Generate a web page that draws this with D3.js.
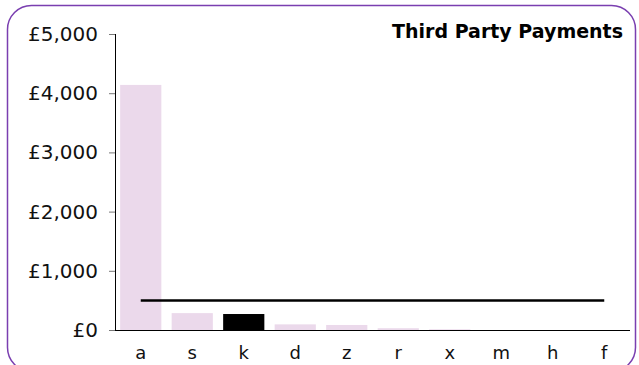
<!DOCTYPE html>
<html>
<head>
<meta charset="utf-8">
<script src="https://cdn.jsdelivr.net/npm/d3@7"></script>
<style>
  body { margin: 0; background: #fff; }
  text { font-family: "DejaVu Sans", Verdana, sans-serif; }
</style>
</head>
<body>
<script>
// data
const categories = ["a", "s", "k", "d", "z", "r", "x", "m", "h", "f"];
const payments = [4140, 285, 270, 95, 85, 30, 12, 0, 0, 0];
const average = 500;
const highlight = "k";
const yTicks = [0, 1000, 2000, 3000, 4000, 5000];

const width = 639, height = 365;
const margin = {top: 34, right: 9, bottom: 35, left: 115};

const svg = d3.select("body")
              .append("svg")
              .attr("width", width)
              .attr("height", height);

// rounded purple frame
svg.append("rect")
   .attr("x", 7.5)
   .attr("y", 5.5)
   .attr("width", 628)
   .attr("height", 366)
   .attr("rx", 24)
   .attr("fill", "none")
   .attr("stroke", "#7a3fb0")
   .attr("stroke-width", 1.5);

const g = svg.append("g")
             .attr("transform", `translate(${margin.left},${margin.top})`);

const w = width - margin.left - margin.right;
const h = height - margin.top - margin.bottom;

const x = d3.scaleBand()
            .domain(categories)
            .range([0, w])
            .paddingInner(0.2)
            .paddingOuter(0.1);

const y = d3.scaleLinear()
            .domain([0, 5000])
            .range([h, 0]);

// bars
g.selectAll("rect.bar")
 .data(categories)
 .enter()
 .append("rect")
 .attr("class", "bar")
 .attr("x", d => x(d))
 .attr("width", x.bandwidth())
 .attr("y", (d, i) => y(payments[i]))
 .attr("height", (d, i) => h - y(payments[i]))
 .attr("fill", d => d === highlight ? "#000" : "#ebd9eb");

// y axis
const yAxis = g.append("g")
               .call(d3.axisLeft(y)
                       .tickValues(yTicks)
                       .tickSize(6)
                       .tickPadding(11)
                       .tickFormat(d => "£" + d3.format(",")(d)));
yAxis.select(".domain").attr("d", `M0.5,0V${h}`).attr("stroke", "#000");
yAxis.selectAll(".tick line").attr("stroke", "#777");
yAxis.selectAll("text")
     .attr("font-size", "20px")
     .attr("fill", "#111")
     .attr("font-family", "DejaVu Sans, Verdana, sans-serif");

// x axis
const xAxis = g.append("g")
               .attr("transform", `translate(0,${h})`)
               .call(d3.axisBottom(x).tickSize(0).tickPadding(16));
xAxis.select(".domain").attr("d", `M0,0.5H${w}`).attr("stroke", "#000");
xAxis.selectAll("text")
     .attr("font-size", "18px")
     .attr("fill", "#111")
     .attr("font-family", "DejaVu Sans, Verdana, sans-serif");

// average line
g.append("line")
 .attr("x1", x(categories[0]) + x.bandwidth() / 2)
 .attr("x2", x(categories[categories.length - 1]) + x.bandwidth() / 2)
 .attr("y1", y(average))
 .attr("y2", y(average))
 .attr("stroke", "#000")
 .attr("stroke-width", 2.5);

// title
svg.append("text")
   .attr("x", 623)
   .attr("y", 38)
   .attr("text-anchor", "end")
   .attr("font-size", "19px")
   .attr("font-weight", "bold")
   .attr("fill", "#000")
   .text("Third Party Payments");
</script>
</body>
</html>
